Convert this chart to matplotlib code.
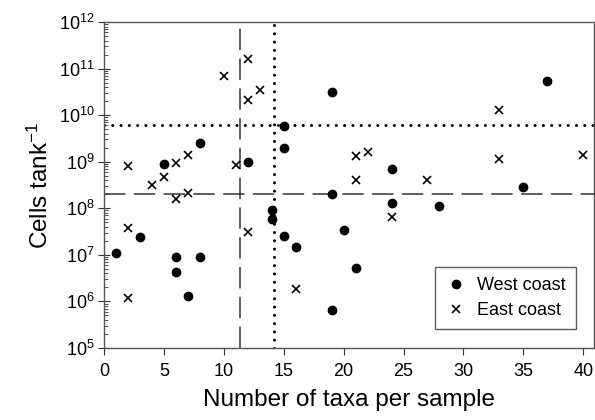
import matplotlib
matplotlib.use("Agg")
import matplotlib.pyplot as plt
from matplotlib.ticker import LogLocator, NullFormatter, MultipleLocator

plt.rcParams['font.family'] = ['Liberation Sans', 'DejaVu Sans']
plt.rcParams['mathtext.fontset'] = 'custom'
plt.rcParams['mathtext.rm'] = 'Liberation Sans'
plt.rcParams['mathtext.it'] = 'Liberation Sans:italic'

# West coast (filled circles)
west_x = [1, 3, 5, 6, 6, 7, 8, 8, 12, 14, 14, 15, 15, 15, 16, 19, 19, 19, 20, 21, 24, 24, 28, 35, 37]
west_y = [1.1e7, 2.4e7, 9e8, 9.2e6, 4.3e6, 1.3e6, 2.5e9, 8.8e6, 1e9, 9.3e7, 5.8e7, 5.9e9, 2e9, 2.5e7,
          1.5e7, 3.1e10, 2e8, 6.5e5, 3.4e7, 5.1e6, 7e8, 1.3e8, 1.1e8, 2.8e8, 5.3e10]

# East coast (crosses)
east_x = [2, 2, 2, 4, 5, 6, 6, 7, 7, 10, 11, 12, 12, 12, 13, 16, 21, 21, 22, 24, 27, 33, 33, 40]
east_y = [8e8, 3.8e7, 1.2e6, 3.1e8, 4.6e8, 9.6e8, 1.6e8, 1.4e9, 2.1e8, 7e10, 8.7e8, 1.6e11, 2.1e10, 3.1e7,
          3.5e10, 1.86e6, 1.3e9, 4.1e8, 1.65e9, 6.4e7, 4.1e8, 1.3e10, 1.15e9, 1.4e9]

dashed_x = 11.35
dotted_x = 14.2
dashed_y = 2e8
dotted_y = 6e9

fig = plt.figure(figsize=(5.95, 4.2), dpi=100)
ax = fig.add_axes([104/595, 1-348/420, 490/595, 326/420])

ax.set_yscale('log')
ax.set_xlim(0, 40.9)
ax.set_ylim(1e5, 1e12)

dash_style = (0, (14, 5.5))
dot_style = (0, (0.01, 2.7))
ax.axvline(dashed_x, color='#333333', lw=1.1, linestyle=dash_style, zorder=1)
ax.axhline(dashed_y, color='#333333', lw=1.1, linestyle=dash_style, zorder=1)
ax.axvline(dotted_x, color='black', lw=2.2, linestyle=dot_style, dash_capstyle='round', zorder=1)
ax.axhline(dotted_y, color='black', lw=2.2, linestyle=dot_style, dash_capstyle='round', zorder=1)

ax.plot(west_x, west_y, 'o', color='black', markersize=6, linestyle='none', label='West coast', zorder=3)
ax.plot(east_x, east_y, 'x', color='black', markersize=5.8, markeredgewidth=1.2, linestyle='none',
        label='East coast', zorder=3)

ax.xaxis.set_major_locator(MultipleLocator(5))
ax.yaxis.set_major_locator(LogLocator(base=10, numticks=20))
ax.yaxis.set_minor_locator(LogLocator(base=10, subs=range(2, 10), numticks=20))
ax.yaxis.set_minor_formatter(NullFormatter())

ax.tick_params(axis='both', which='major', labelsize=13, direction='out', length=5, width=0.8, colors='#333333',
               labelcolor='black')
ax.tick_params(axis='x', which='major', pad=6)
ax.tick_params(axis='y', which='minor', direction='in', length=3, width=0.6, colors='#333333')
ax.tick_params(axis='y', which='major', direction='inout', length=8, pad=3)

for s in ax.spines.values():
    s.set_color('#555555')
    s.set_linewidth(1.0)

ax.set_xlabel('Number of taxa per sample', fontsize=17.5, labelpad=6)
ax.set_ylabel('Cells tank$^{-1}$', fontsize=17.5, labelpad=4)

leg = ax.legend(loc='lower right', bbox_to_anchor=(0.963, 0.058), borderaxespad=0, fontsize=13,
                frameon=True, fancybox=False, edgecolor='#333333', handletextpad=0.6, borderpad=0.55,
                labelspacing=0.45, handlelength=1.2)
leg.get_frame().set_linewidth(1.0)

fig.savefig('out.png', dpi=100)
